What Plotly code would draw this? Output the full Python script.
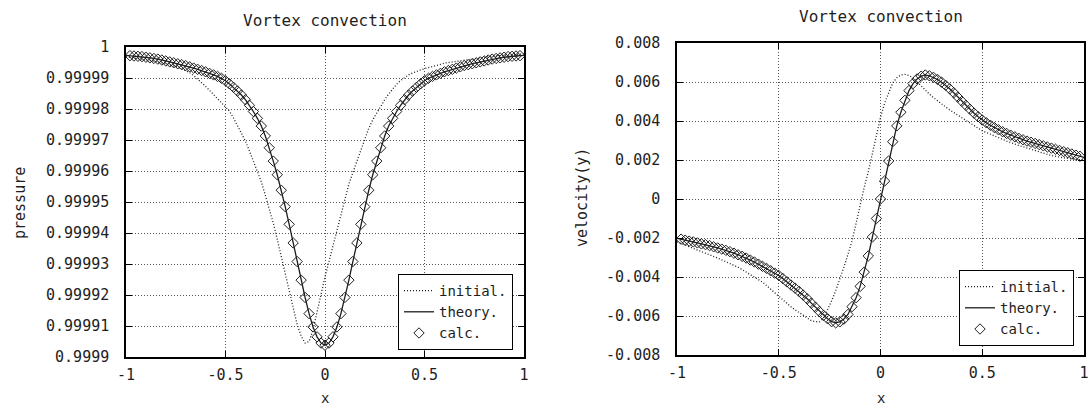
import plotly.graph_objects as go

# ---------------- data ----------------
X = [-1.00, -0.98, -0.96, -0.94, -0.92, -0.90, -0.88, -0.86, -0.84, -0.82,
     -0.80, -0.78, -0.76, -0.74, -0.72, -0.70, -0.68, -0.66, -0.64, -0.62,
     -0.60, -0.58, -0.56, -0.54, -0.52, -0.50, -0.48, -0.46, -0.44, -0.42,
     -0.40, -0.38, -0.36, -0.34, -0.32, -0.30, -0.28, -0.26, -0.24, -0.22,
     -0.20, -0.18, -0.16, -0.14, -0.12, -0.10, -0.08, -0.06, -0.04, -0.02,
     0.00, 0.02, 0.04, 0.06, 0.08, 0.10, 0.12, 0.14, 0.16, 0.18,
     0.20, 0.22, 0.24, 0.26, 0.28, 0.30, 0.32, 0.34, 0.36, 0.38,
     0.40, 0.42, 0.44, 0.46, 0.48, 0.50, 0.52, 0.54, 0.56, 0.58,
     0.60, 0.62, 0.64, 0.66, 0.68, 0.70, 0.72, 0.74, 0.76, 0.78,
     0.80, 0.82, 0.84, 0.86, 0.88, 0.90, 0.92, 0.94, 0.96, 0.98, 1.00]

P_INITIAL = [0.9999969, 0.9999967, 0.9999965, 0.9999963, 0.9999961, 0.9999959, 0.9999957, 0.9999954, 0.9999952, 0.9999949,
             0.9999946, 0.9999943, 0.9999939, 0.9999935, 0.9999930, 0.9999924, 0.9999917, 0.9999908, 0.9999897, 0.9999886,
             0.9999873, 0.9999860, 0.9999847, 0.9999834, 0.9999821, 0.9999809, 0.9999793, 0.9999771, 0.9999747, 0.9999723,
             0.9999697, 0.9999665, 0.9999632, 0.9999600, 0.9999565, 0.9999522, 0.9999480, 0.9999432, 0.9999380, 0.9999325,
             0.9999269, 0.9999212, 0.9999158, 0.9999105, 0.9999068, 0.9999045, 0.9999050, 0.9999088, 0.9999145, 0.9999205,
             0.9999258, 0.9999308, 0.9999358, 0.9999404, 0.9999450, 0.9999505, 0.9999558, 0.9999595, 0.9999632, 0.9999670,
             0.9999708, 0.9999738, 0.9999765, 0.9999788, 0.9999809, 0.9999830, 0.9999848, 0.9999864, 0.9999880, 0.9999892,
             0.9999902, 0.9999910, 0.9999916, 0.9999922, 0.9999926, 0.9999930, 0.9999933, 0.9999937, 0.9999940, 0.9999944,
             0.9999948, 0.9999950, 0.9999952, 0.9999954, 0.9999956, 0.9999958, 0.9999960, 0.9999962, 0.9999964, 0.9999965,
             0.9999967, 0.9999968, 0.9999970, 0.9999971, 0.9999972, 0.9999973, 0.9999974, 0.9999975, 0.9999976, 0.9999977, 0.9999978]

P_THEORY = [0.9999973, 0.9999972, 0.9999971, 0.9999970, 0.9999969, 0.9999967, 0.9999965, 0.9999963, 0.9999961, 0.9999958,
            0.9999955, 0.9999952, 0.9999949, 0.9999946, 0.9999943, 0.9999940, 0.9999936, 0.9999932, 0.9999928, 0.9999924,
            0.9999920, 0.9999915, 0.9999910, 0.9999905, 0.9999899, 0.9999891, 0.9999881, 0.9999870, 0.9999858, 0.9999845,
            0.9999830, 0.9999812, 0.9999792, 0.9999770, 0.9999745, 0.9999713, 0.9999675, 0.9999632, 0.9999588, 0.9999538,
            0.9999485, 0.9999428, 0.9999368, 0.9999308, 0.9999248, 0.9999192, 0.9999140, 0.9999097, 0.9999065, 0.9999045,
            0.9999038, 0.9999045, 0.9999065, 0.9999097, 0.9999140, 0.9999192, 0.9999248, 0.9999308, 0.9999368, 0.9999428,
            0.9999485, 0.9999538, 0.9999588, 0.9999632, 0.9999675, 0.9999713, 0.9999745, 0.9999770, 0.9999792, 0.9999812,
            0.9999830, 0.9999845, 0.9999858, 0.9999870, 0.9999881, 0.9999891, 0.9999899, 0.9999905, 0.9999910, 0.9999915,
            0.9999920, 0.9999924, 0.9999928, 0.9999932, 0.9999936, 0.9999940, 0.9999943, 0.9999946, 0.9999949, 0.9999952,
            0.9999955, 0.9999958, 0.9999961, 0.9999963, 0.9999965, 0.9999967, 0.9999969, 0.9999970, 0.9999971, 0.9999972, 0.9999973]

V_INITIAL = [-0.00220, -0.00228, -0.00236, -0.00244, -0.00252, -0.00259, -0.00267, -0.00276, -0.00285, -0.00294,
             -0.00303, -0.00312, -0.00321, -0.00330, -0.00340, -0.00350, -0.00362, -0.00374, -0.00386, -0.00398,
             -0.00410, -0.00426, -0.00444, -0.00463, -0.00482, -0.00500, -0.00518, -0.00536, -0.00553, -0.00568,
             -0.00583, -0.00598, -0.00612, -0.00624, -0.00629, -0.00630, -0.00612, -0.00570, -0.00522, -0.00470,
             -0.00415, -0.00350, -0.00285, -0.00215, -0.00125, -0.00025, 0.00060, 0.00140, 0.00237, 0.00332,
             0.00418, 0.00491, 0.00548, 0.00595, 0.00622, 0.00636, 0.00639, 0.00633, 0.00622, 0.00600,
             0.00580, 0.00558, 0.00538, 0.00520, 0.00503, 0.00488, 0.00472, 0.00457, 0.00443, 0.00430,
             0.00416, 0.00403, 0.00390, 0.00377, 0.00363, 0.00350, 0.00342, 0.00333, 0.00324, 0.00315,
             0.00306, 0.00297, 0.00288, 0.00280, 0.00274, 0.00268, 0.00261, 0.00254, 0.00247, 0.00241,
             0.00235, 0.00229, 0.00223, 0.00218, 0.00214, 0.00211, 0.00208, 0.00205, 0.00203, 0.00201, 0.00199]

V_THEORY = [-0.00202, -0.00206, -0.00211, -0.00216, -0.00220, -0.00225, -0.00230, -0.00234, -0.00239, -0.00245,
            -0.00251, -0.00257, -0.00263, -0.00270, -0.00278, -0.00286, -0.00294, -0.00303, -0.00313, -0.00323,
            -0.00334, -0.00345, -0.00356, -0.00368, -0.00380, -0.00392, -0.00408, -0.00425, -0.00441, -0.00457,
            -0.00474, -0.00493, -0.00512, -0.00534, -0.00555, -0.00577, -0.00597, -0.00614, -0.00629, -0.00635,
            -0.00630, -0.00616, -0.00592, -0.00552, -0.00506, -0.00448, -0.00375, -0.00292, -0.00195, -0.00100,
            0.00000, 0.00092, 0.00195, 0.00294, 0.00375, 0.00445, 0.00506, 0.00556, 0.00592, 0.00616,
            0.00630, 0.00636, 0.00632, 0.00624, 0.00613, 0.00599, 0.00583, 0.00565, 0.00545, 0.00523,
            0.00501, 0.00480, 0.00460, 0.00440, 0.00422, 0.00405, 0.00391, 0.00378, 0.00366, 0.00355,
            0.00345, 0.00336, 0.00327, 0.00319, 0.00311, 0.00304, 0.00297, 0.00291, 0.00285, 0.00279,
            0.00273, 0.00267, 0.00261, 0.00255, 0.00249, 0.00243, 0.00237, 0.00231, 0.00225, 0.00219, 0.00213]

# the computed values coincide with theory at the interior grid points
X_CALC = X[1:-1]
P_CALC = P_THEORY[1:-1]
V_CALC = V_THEORY[1:-1]

X_TICKS = [-1, -0.5, 0, 0.5, 1]
X_TICK_TEXT = ["-1", "-0.5", "0", "0.5", "1"]
P_TICKS = [0.9999, 0.99991, 0.99992, 0.99993, 0.99994, 0.99995, 0.99996, 0.99997, 0.99998, 0.99999, 1.0]
P_TICK_TEXT = ["0.9999", "0.99991", "0.99992", "0.99993", "0.99994", "0.99995",
               "0.99996", "0.99997", "0.99998", "0.99999", "1"]
V_TICKS = [-0.008, -0.006, -0.004, -0.002, 0, 0.002, 0.004, 0.006, 0.008]
V_TICK_TEXT = ["-0.008", "-0.006", "-0.004", "-0.002", "0", "0.002", "0.004", "0.006", "0.008"]

TITLE = "Vortex convection"
NAMES = ["initial.", "theory.", "calc."]

# ---------------- style ----------------
W, H = 1092, 408
FONT = "DejaVu Sans Mono"
INK = "#1e1e1e"
GRID = "#555555"

fig = go.Figure()

def add_series(x, init, theo, xc, calc, xa, ya, legend):
    fig.add_trace(go.Scatter(x=x, y=init, mode="lines", name=NAMES[0],
                             line=dict(color=INK, width=1.3, dash="1px,2px"),
                             xaxis=xa, yaxis=ya, legend=legend))
    fig.add_trace(go.Scatter(x=x, y=theo, mode="lines", name=NAMES[1],
                             line=dict(color=INK, width=1.3),
                             xaxis=xa, yaxis=ya, legend=legend))
    fig.add_trace(go.Scatter(x=xc, y=calc, mode="markers", name=NAMES[2],
                             marker=dict(symbol="diamond-open", size=8, color=INK,
                                         line=dict(width=1, color=INK)),
                             xaxis=xa, yaxis=ya, legend=legend))

add_series(X, P_INITIAL, P_THEORY, X_CALC, P_CALC, "x", "y", "legend")
add_series(X, V_INITIAL, V_THEORY, X_CALC, V_CALC, "x2", "y2", "legend2")

def px_x(p):
    return p / W

def px_y(p):
    return (H - p) / H

# plot frames (pixel boxes of the reference)
L = dict(x0=126, x1=524, y0=47, y1=357)
R = dict(x0=677, x1=1084, y0=43, y1=355)

axis_common = dict(
    showline=True, linecolor="black", linewidth=1.5, mirror="ticks",
    ticks="inside", ticklen=6, tickcolor="black", tickwidth=1,
    showgrid=True, gridcolor=GRID, gridwidth=1, griddash="1px,2px",
    zeroline=False, automargin=False, ticklabeloverflow="allow",
    tickfont=dict(family=FONT, size=15, color=INK),
)

leg_common = dict(xanchor="right", yanchor="bottom",
                  bgcolor="white", bordercolor="black", borderwidth=1,
                  font=dict(family=FONT, size=14, color=INK),
                  tracegroupgap=0, itemwidth=30)

fig.update_layout(
    width=W, height=H,
    margin=dict(l=0, r=0, t=0, b=0),
    paper_bgcolor="white", plot_bgcolor="white",
    template="none",
    font=dict(family=FONT, size=15, color=INK),
    xaxis=dict(axis_common, domain=[px_x(L["x0"]), px_x(L["x1"])], range=[-1, 1],
               tickvals=X_TICKS, ticktext=X_TICK_TEXT, anchor="y", ticklabelstandoff=3),
    yaxis=dict(axis_common, domain=[px_y(L["y1"]), px_y(L["y0"])], range=[0.9999, 1.0],
               tickvals=P_TICKS, ticktext=P_TICK_TEXT, anchor="x", ticklabelstandoff=12),
    xaxis2=dict(axis_common, domain=[px_x(R["x0"]), px_x(R["x1"])], range=[-1, 1],
                tickvals=X_TICKS, ticktext=X_TICK_TEXT, anchor="y2", ticklabelstandoff=3),
    yaxis2=dict(axis_common, domain=[px_y(R["y1"]), px_y(R["y0"])], range=[-0.008, 0.008],
                tickvals=V_TICKS, ticktext=V_TICK_TEXT, anchor="x2", ticklabelstandoff=12),
    legend=dict(leg_common, x=px_x(513), y=px_y(350)),
    legend2=dict(leg_common, x=px_x(1074), y=px_y(346)),
    showlegend=True,
)

def label(text, x, y, size=15, angle=0):
    return dict(text=text, x=px_x(x), y=px_y(y), xref="paper", yref="paper",
                xanchor="center", yanchor="middle", showarrow=False, textangle=angle,
                font=dict(family=FONT, size=size, color=INK))

fig.update_layout(annotations=[
    label(TITLE, 325, 20, 16),
    label(TITLE, 881, 17, 16),
    label("x", 325, 398, 14),
    label("x", 881, 398, 14),
    label("pressure", 20, 203, 15, -90),
    label("velocity(y)", 582, 198, 15, -90),
])

fig.write_html("out.html", config={"displayModeBar": False},
               post_script="document.body.style.margin='0';")
